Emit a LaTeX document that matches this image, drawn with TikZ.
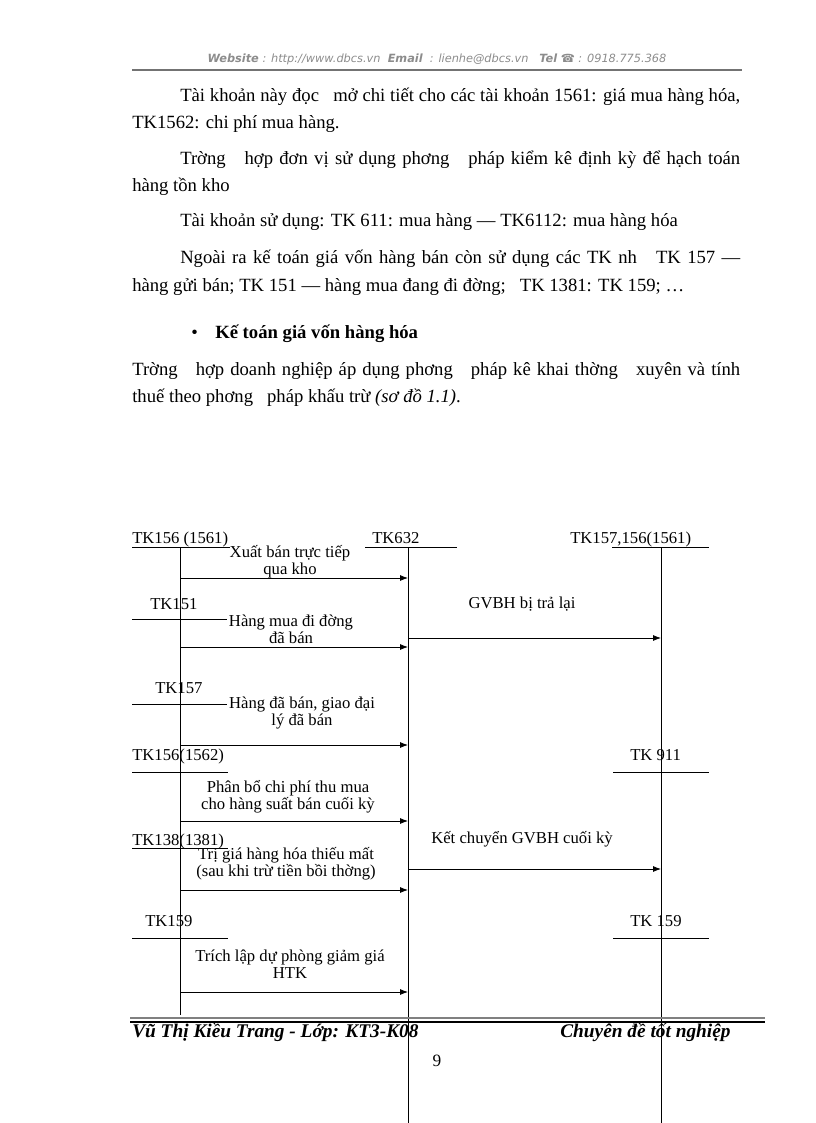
\documentclass[tikz,border=0pt]{standalone}
\usepackage{fontspec}
\setmainfont{Liberation Serif}
\newfontfamily\hdrfont{DejaVu Sans}
\usetikzlibrary{arrows.meta}

\tikzset{
  body/.style={anchor=base west, inner sep=0pt, font=\fontsize{14}{16}\selectfont},
  acct/.style={anchor=base west, inner sep=0pt, font=\fontsize{12.5}{13}\selectfont},
  note/.style={align=center, inner sep=0pt, font=\fontsize{12.5}{12.5}\selectfont},
  foot/.style={anchor=base west, inner sep=0pt, font=\fontsize{14.5}{15}\selectfont\bfseries\itshape},
  tline/.style={line width=0.6pt},
  flow/.style={line width=0.6pt, -{Latex[length=6pt,width=4.5pt]}},
}

\begin{document}
\begin{tikzpicture}[x=0.75pt,y=-0.75pt]
\useasboundingbox (0,0) rectangle (816,1123);

% header
\node[anchor=base, inner sep=0pt, text=black!45, font=\hdrfont\itshape\fontsize{8.5}{9}\selectfont] (hdr) at (437,63)
  {\textbf{Website} : http://www.dbcs.vn\ \ \textbf{Email}\ \ : lienhe@dbcs.vn\ \ \ \textbf{Tel} ☎ : 0918.775.368};
\coordinate (hl) at (132,70);
\coordinate (hr) at (742,70);
\draw[black!55, line width=0.8pt] (hl) -- (hr);

% body text
\node[body] (p1) at (180,102) {\makebox[420pt][s]{Tài khoản này đọc\ \ \ mở chi tiết cho các tài khoản 1561: giá mua hàng hóa,}};
\node[body] (p2) at (132,129) {TK1562: chi phí mua hàng.};
\node[body] (p3) at (180,165) {\makebox[420pt][s]{Trờng\ \ \ hợp đơn vị sử dụng phơng\ \ \ pháp kiểm kê định kỳ để hạch toán}};
\node[body] (p4) at (132,192) {hàng tồn kho};
\node[body] (p5) at (180,227) {Tài khoản sử dụng: TK 611: mua hàng — TK6112: mua hàng hóa};
\node[body] (p6) at (180,263) {\makebox[420pt][s]{Ngoài ra kế toán giá vốn hàng bán còn sử dụng các TK nh\ \ \ TK 157 —}};
\node[body] (p7) at (132,291) {hàng gửi bán; TK 151 — hàng mua đang đi đờng;\ \ \ TK 1381: TK 159; …};
\node[body] (blt) at (191,338) {•};
\node[body] (ttl) at (215,338) {\textbf{Kế toán giá vốn hàng hóa}};
\node[body] (p8) at (132,375) {\makebox[456pt][s]{Trờng\ \ \ hợp doanh nghiệp áp dụng phơng\ \ \ pháp kê khai thờng\ \ \ xuyên và tính}};
\node[body] (p9) at (132,402) {thuế theo phơng\ \ \ pháp khấu trừ \textit{(sơ đồ 1.1)}.};

% accounts
\node[acct] (k1561) at (132,543) {TK156 (1561)};
\node[acct] (k632) at (372,543) {TK632};
\node[acct] (k157r) at (570,543) {TK157,156(1561)};
\node[acct] (k151) at (150,609) {TK151};
\node[acct] (k157) at (155,693) {TK157};
\node[acct] (k1562) at (132,760) {TK156(1562)};
\node[acct] (k911) at (630,760) {TK 911};
\node[acct] (k1381) at (132,845) {TK138(1381)};
\node[acct] (k159) at (145,926) {TK159};
\node[acct] (k159r) at (630,926) {TK 159};

% T lines
\coordinate (u1a) at (132,547); \coordinate (u1b) at (230,547);
\coordinate (u2a) at (365,547); \coordinate (u2b) at (457,547);
\coordinate (u3a) at (612,547); \coordinate (u3b) at (709,547);
\coordinate (u4a) at (132,619); \coordinate (u4b) at (227,619);
\coordinate (u5a) at (132,704); \coordinate (u5b) at (227,704);
\coordinate (u6a) at (132,772); \coordinate (u6b) at (228,772);
\coordinate (u7a) at (613,772); \coordinate (u7b) at (709,772);
\coordinate (u8a) at (132,848); \coordinate (u8b) at (228,848);
\coordinate (u9a) at (132,938); \coordinate (u9b) at (228,938);
\coordinate (u10a) at (613,938); \coordinate (u10b) at (709,938);
\foreach \i in {1,...,10} \draw[tline] (u\i a) -- (u\i b);

\coordinate (vl) at (180,547); \coordinate (vlb) at (180,1015);
\coordinate (vm) at (408,547); \coordinate (vmb) at (408,1123);
\coordinate (vr) at (661,547); \coordinate (vrb) at (661,1123);
\draw[tline] (vl) -- (vlb);
\draw[tline] (vm) -- (vmb);
\draw[tline] (vr) -- (vrb);

% flows
\foreach \n/\y in {1/578,2/647,3/745,4/821,5/890,6/992}{
  \coordinate (l\n) at (180,\y);
  \coordinate (m\n) at (408,\y);
}
\coordinate (g1) at (408,638); \coordinate (r1) at (661,638);
\coordinate (g2) at (408,869); \coordinate (r2) at (661,869);
\foreach \n in {1,...,6} \draw[flow] (l\n) -- (m\n);
\draw[flow] (g1) -- (r1);
\draw[flow] (g2) -- (r2);

\node[note] (t1) at (290,562) {Xuất bán trực tiếp\\qua kho};
\node[note] (t2) at (291,629) {Hàng mua đi đờng\\đã bán};
\node[note] (t3) at (302,713) {Hàng đã bán, giao đại\\lý đã bán};
\node[note] (t4) at (288,797) {Phân bổ chi phí thu mua\\cho hàng suất bán cuối kỳ};
\node[note] (t5) at (286,864) {Trị giá hàng hóa thiếu mất\\(sau khi trừ tiền bồi thờng)};
\node[note] (t6) at (290,964) {Trích lập dự phòng giảm giá\\HTK};
\node[note] (t7) at (522,604) {GVBH bị trả lại};
\node[note] (t8) at (522,839) {Kết chuyển GVBH cuối kỳ};

% footer
\coordinate (fl) at (130,1018); \coordinate (fr) at (765,1018);
\coordinate (fl2) at (130,1022); \coordinate (fr2) at (765,1022);
\draw[black!50, line width=1.5pt] (fl) -- (fr);
\draw[line width=1pt] (fl2) -- (fr2);
\node[foot] (ftl) at (132,1037) {Vũ Thị Kiều Trang - Lớp: KT3-K08};
\node[foot] (ftr) at (560,1037) {Chuyên đề tốt nghiệp};
\node[anchor=base, inner sep=0pt, font=\fontsize{13}{14}\selectfont] (pg) at (437,1066) {9};
\end{tikzpicture}
\end{document}
